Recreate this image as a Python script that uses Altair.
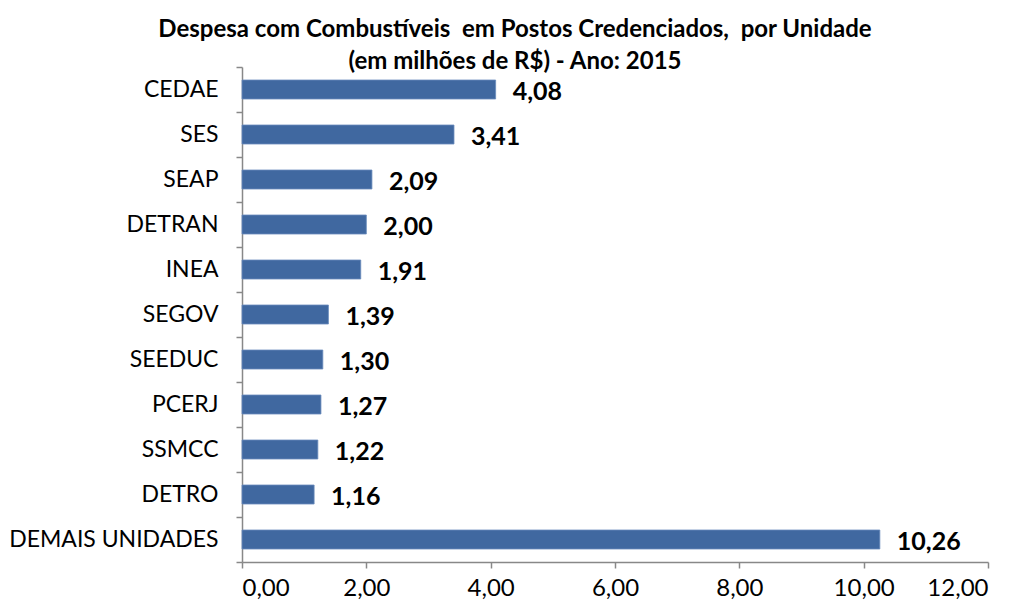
import altair as alt
import pandas as pd

categories = ["CEDAE", "SES", "SEAP", "DETRAN", "INEA", "SEGOV", "SEEDUC",
              "PCERJ", "SSMCC", "DETRO", "DEMAIS UNIDADES"]
values = [4.08, 3.41, 2.09, 2.00, 1.91, 1.39, 1.30, 1.27, 1.22, 1.16, 10.26]
x_ticks = [0, 2, 4, 6, 8, 10, 12]

df = pd.DataFrame({"unidade": categories, "valor": values})
df["rotulo"] = [f"{v:.2f}".replace(".", ",") for v in values]

FONT = "Lato"

base = alt.Chart(df).encode(
    y=alt.Y("unidade:N", sort=categories,
            scale=alt.Scale(paddingInner=0, paddingOuter=0),
            axis=alt.Axis(title=None, tickBand="extent", domainColor="#888888",
                          tickColor="#888888", tickSize=6, labelPadding=18,
                          labelFontSize=23, labelFont=FONT, labelColor="#000000",
                          labelLimit=400,
                          domainWidth=1.5, tickWidth=1.5))
)

bars = base.mark_bar(height=19, color="#4068a0", stroke="#6a8cbc", strokeWidth=0.8).encode(
    x=alt.X("valor:Q", scale=alt.Scale(domain=[0, 12], nice=False),
            axis=alt.Axis(title=None, values=x_ticks, grid=False,
                          labelExpr="replace(format(datum.value, '.2f'), '.', ',')",
                          domainColor="#888888", tickColor="#888888", tickSize=6,
                          labelPadding=8, labelFontSize=24, labelFont=FONT,
                          labelColor="#000000", domainWidth=1.5, tickWidth=1.5))
)

labels = base.mark_text(align="left", baseline="middle", dx=17, dy=2,
                        fontSize=25, fontWeight="bold", font=FONT, color="#000000").encode(
    x="valor:Q", text="rotulo:N"
)

chart = (bars + labels).properties(
    width=746, height=495,
    title=alt.TitleParams(
        ["Despesa com Combustíveis \u00a0em Postos Credenciados, \u00a0por Unidade",
         "(em milhões de R$) - Ano: 2015"],
        fontSize=24, fontWeight="bold", font=FONT, color="#000000",
        anchor="middle", dx=-100, offset=-18, lineHeight=32),
    autosize=alt.AutoSizeParams(type="none"),
    padding={"left": 234, "top": 59, "right": 20, "bottom": 40},
).configure_view(stroke=None)

chart.save("out.html", embed_options={"renderer": "svg", "actions": False})
